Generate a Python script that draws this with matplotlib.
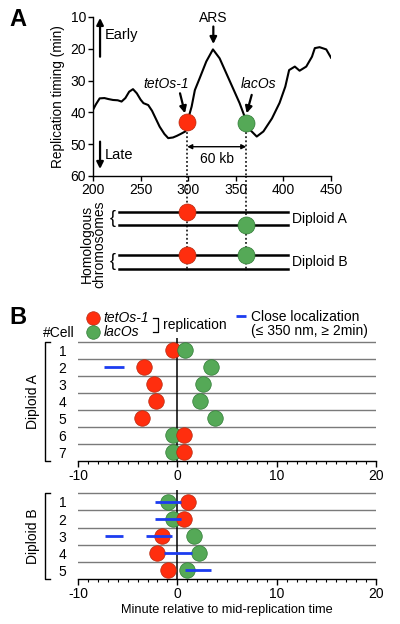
import matplotlib
matplotlib.use('Agg')
import matplotlib.pyplot as plt
from matplotlib.ticker import MultipleLocator

plt.rcParams['font.family'] = ['Liberation Sans', 'DejaVu Sans']
plt.rcParams['axes.linewidth'] = 1.0
plt.rcParams['axes.unicode_minus'] = False

RED = '#ff2e0e'
RED_EDGE = '#b52a10'
GREEN = '#55a957'
GREEN_EDGE = '#2f7a35'
BLUE = '#1c3cf0'

# ---- panel A: replication timing profile ----
kb = [200, 203, 207, 212, 216, 221, 226, 230, 234, 238, 242, 246, 250, 253,
      258, 262, 266, 270, 275, 279, 284, 288, 292, 297, 300, 303.6, 307, 312,
      319, 326, 333, 340, 347, 354, 358.6, 362, 365, 372, 379, 388, 396, 402,
      406, 412, 417, 424, 430, 433, 438, 445, 450]
timing = [39.2, 37.5, 35.6, 35.5, 35.8, 36.1, 36.2, 36.6, 35.5, 33.5, 32.7,
          34.0, 36.0, 37.1, 37.7, 39.5, 42.0, 44.5, 46.8, 48.1, 47.9, 47.4,
          46.8, 46.0, 42.0, 38.2, 33.0, 29.3, 24.0, 20.2, 23.0, 27.7, 32.4,
          37.1, 40.8, 43.5, 45.5, 47.6, 46.0, 41.9, 37.0, 31.9, 26.7, 25.6,
          26.9, 25.6, 22.5, 19.8, 19.5, 20.2, 22.8]

tetos_kb, tetos_min = 299, 43.1
lacos_kb, lacos_min = 361, 43.2

# chromosome diagram (levels of the four homologue lines)
chrom_y = [35.7, 49, 79, 93]
chrom_start, chrom_end = 227, 405

# ---- panel B: replication times per cell ----
cells_A = [1, 2, 3, 4, 5, 6, 7]
tet_A = [-0.45, -3.35, -2.35, -2.15, -3.6, 0.7, 0.7]
lac_A = [0.75, 3.4, 2.6, 2.3, 3.75, -0.45, -0.45]
close_A_row = [2]
close_A_start = [-7.4]
close_A_end = [-5.4]

cells_B = [1, 2, 3, 4, 5]
tet_B = [1.05, 0.7, -1.5, -2.0, -0.95]
lac_B = [-0.95, -0.45, 1.65, 2.15, 1.0]
close_B_row = [1, 2, 3, 3, 4, 5]
close_B_start = [-2.2, -2.2, -7.3, -3.2, -1.35, 0.75]
close_B_end = [0.4, 0.4, -5.5, -0.5, 1.5, 3.35]

FS = 10

fig = plt.figure(figsize=(4, 6.24), dpi=100)

# ---------------- A: timing curve ----------------
ax1 = fig.add_axes([0.2325, 0.718, 0.595, 0.2548])
ax1.plot(kb, timing, color='k', lw=1.5, zorder=2)
ax1.set_xlim(200, 450)
ax1.set_ylim(60, 10)
ax1.set_xticks([200, 250, 300, 350, 400, 450])
ax1.set_yticks([10, 20, 30, 40, 50, 60])
ax1.spines['top'].set_visible(False)
ax1.spines['right'].set_visible(False)
ax1.tick_params(labelsize=FS, length=3.6, width=1, pad=1.5)
ax1.set_ylabel('Replication timing (min)', fontsize=9.8, labelpad=3.5)

ax1.scatter([tetos_kb], [tetos_min], s=150, color=RED, edgecolor=RED_EDGE,
            linewidth=0.5, zorder=4)
ax1.scatter([lacos_kb], [lacos_min], s=150, color=GREEN, edgecolor=GREEN_EDGE,
            linewidth=0.5, zorder=4)
for x in (tetos_kb, lacos_kb):
    ax1.plot([x, x], [45, 60], ls=(0, (1.2, 1.5)), color='k', lw=1.1,
             zorder=1, clip_on=False)

arrow = dict(arrowstyle='-|>', color='k', lw=1.6, mutation_scale=10,
             shrinkA=0, shrinkB=0)
ax1.annotate('', xy=(207.4, 10.3), xytext=(207.4, 22.5), arrowprops=arrow)
ax1.text(212.5, 15.7, 'Early', fontsize=10.5, va='center', ha='left')
ax1.annotate('', xy=(207.4, 57.8), xytext=(207.4, 49.2), arrowprops=arrow)
ax1.text(212.5, 53.4, 'Late', fontsize=10.5, va='center', ha='left')

ax1.text(277, 31.2, 'tetOs-1', fontsize=FS, style='italic', ha='center', va='center')
ax1.annotate('', xy=(296.6, 40.3), xytext=(291.4, 34), arrowprops=arrow)
ax1.text(326.4, 10.4, 'ARS', fontsize=FS, ha='center', va='center', clip_on=False)
ax1.annotate('', xy=(326.4, 18.5), xytext=(326.4, 13), arrowprops=arrow)
ax1.text(373.6, 31.2, 'lacOs', fontsize=FS, style='italic', ha='center', va='center')
ax1.annotate('', xy=(361.4, 40.3), xytext=(366.7, 34.5), arrowprops=arrow)

ax1.annotate('', xy=(tetos_kb, 50.8), xytext=(lacos_kb, 50.8),
             arrowprops=dict(arrowstyle='<|-|>', color='k', lw=1.0,
                             mutation_scale=7, shrinkA=0, shrinkB=0))
ax1.text((tetos_kb + lacos_kb) / 2, 54.6, '60 kb', fontsize=FS,
         ha='center', va='center')

fig.text(0.046, 0.968, 'A', fontsize=17, fontweight='bold', ha='center', va='center')

# ---------------- A: homologous chromosomes ----------------
axc = fig.add_axes([0.2325, 0.5577, 0.595, 0.1603])
axc.set_xlim(200, 450)
axc.set_ylim(100, 0)
axc.axis('off')
axc.patch.set_alpha(0)
for y in chrom_y:
    axc.plot([chrom_start, chrom_end], [y, y], color='k', lw=1.8, zorder=2)
for x in (tetos_kb, lacos_kb):
    axc.plot([x, x], [0, 95], ls=(0, (1.2, 1.5)), color='k', lw=1.1, zorder=1)
axc.scatter([tetos_kb, tetos_kb], [chrom_y[0], chrom_y[2]], s=150, color=RED,
            edgecolor=RED_EDGE, linewidth=0.5, zorder=4)
axc.scatter([lacos_kb, lacos_kb], [chrom_y[1], chrom_y[2]], s=150, color=GREEN,
            edgecolor=GREEN_EDGE, linewidth=0.5, zorder=4)
for y0, y1, name in [(chrom_y[0], chrom_y[1], 'Diploid A'),
                     (chrom_y[2], chrom_y[3], 'Diploid B')]:
    axc.text(221, (y0 + y1) / 2, '{', fontsize=13, ha='center', va='center',
             fontweight='light')
    axc.text(409, (y0 + y1) / 2 + 0.5, name, fontsize=FS, ha='left', va='center')
axc.text(200, 68, 'Homologous\nchromosomes', fontsize=FS, rotation=90,
         ha='center', va='center', linespacing=0.88)


# ---------------- B: per-cell replication times ----------------
def draw_cells(ax, cells, tet, lac, c_row, c_start, c_end):
    n = len(cells)
    ax.set_xlim(-10, 20)
    ax.set_ylim(n + 0.5, 0.3)
    for y in range(n):
        ax.axhline(y + 0.5, color='#7a7a7a', lw=1.0, zorder=1)
    ax.axvline(0, color='k', lw=1.1, zorder=2)
    for row, t, l in zip(cells, tet, lac):
        pts = sorted([(t, RED, RED_EDGE), (l, GREEN, GREEN_EDGE)])
        for k, (x, c, ec) in enumerate(pts):
            ax.scatter([x], [row], s=125, color=c, edgecolor=ec,
                       linewidth=0.5, zorder=3 + k)
    for row, a, b in zip(c_row, c_start, c_end):
        ax.plot([a, b], [row, row], color=BLUE, lw=2.0, zorder=6,
                solid_capstyle='butt')
    for s in ('top', 'right', 'left'):
        ax.spines[s].set_visible(False)
    ax.set_xticks([-10, 0, 10, 20])
    ax.xaxis.set_minor_locator(MultipleLocator(1))
    ax.tick_params(axis='x', which='major', length=4.5, width=1,
                   labelsize=FS, pad=1.5)
    ax.tick_params(axis='x', which='minor', length=2.2, width=0.8)
    ax.set_yticks(cells)
    ax.set_yticklabels([str(c) for c in cells])
    ax.tick_params(axis='y', length=0, pad=8.5, labelsize=FS)
    # bracket on the left
    ax.plot([-12.8, -13.3, -13.3, -12.8], [0.5, 0.5, n + 0.5, n + 0.5],
            color='k', lw=1.0, clip_on=False)


axA = fig.add_axes([0.195, 0.2617, 0.745, 0.1962])
draw_cells(axA, cells_A, tet_A, lac_A, close_A_row, close_A_start, close_A_end)
axA.text(-14.5, 4, 'Diploid A', rotation=90, fontsize=FS, ha='center',
         va='center', clip_on=False)
axA.text(-13.5, -0.02, '#Cell', fontsize=FS, ha='left', va='center')

# legend
axA.scatter([-8.45], [-0.88], s=95, color=RED, edgecolor=RED_EDGE,
            linewidth=0.5, clip_on=False)
axA.scatter([-8.45], [-0.05], s=95, color=GREEN, edgecolor=GREEN_EDGE,
            linewidth=0.5, clip_on=False)
axA.text(-7.45, -0.9, 'tetOs-1', fontsize=FS, style='italic', ha='left', va='center')
axA.text(-7.45, -0.07, 'lacOs', fontsize=FS, style='italic', ha='left', va='center')
axA.plot([-2.49, -1.96, -1.96, -2.49], [-0.89, -0.89, -0.09, -0.09],
         color='k', lw=0.9, clip_on=False)
axA.text(-1.46, -0.5, 'replication', fontsize=FS, ha='left', va='center')
axA.plot([5.9, 6.9], [-1.0, -1.0], color=BLUE, lw=2.0, clip_on=False,
         solid_capstyle='butt')
axA.text(7.46, -0.93, 'Close localization', fontsize=FS, ha='left', va='center')
axA.text(7.46, -0.1, '(\u2264 350 nm, \u2265 2min)', fontsize=FS,
         ha='left', va='center')

fig.text(0.046, 0.491, 'B', fontsize=17, fontweight='bold', ha='center', va='center')

axB = fig.add_axes([0.195, 0.0721, 0.745, 0.1428])
draw_cells(axB, cells_B, tet_B, lac_B, close_B_row, close_B_start, close_B_end)
axB.text(-14.5, 3, 'Diploid B', rotation=90, fontsize=FS, ha='center',
         va='center', clip_on=False)
axB.set_xlabel('Minute relative to mid-replication time', fontsize=9.2, labelpad=2)

fig.savefig('out.png', dpi=100)
